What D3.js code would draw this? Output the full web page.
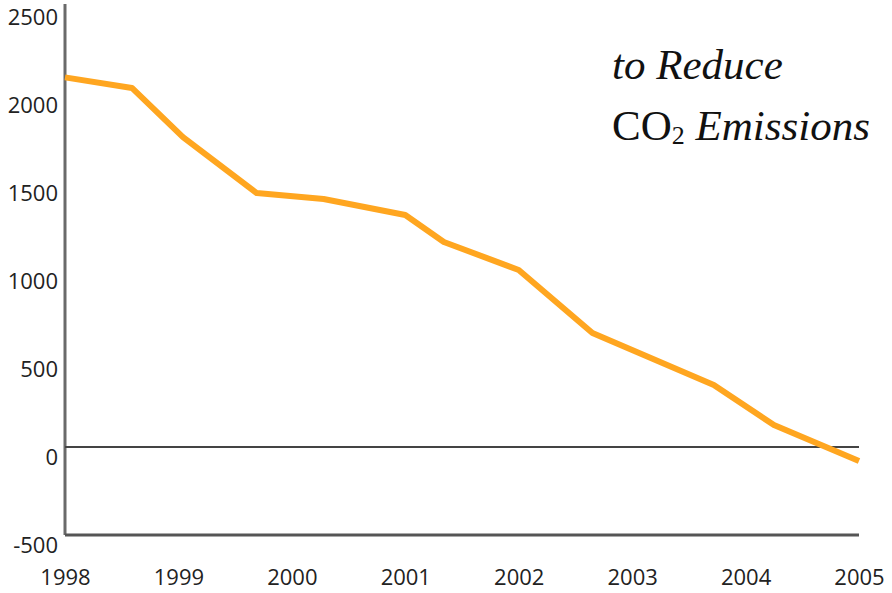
<!DOCTYPE html>
<html>
<head>
<meta charset="utf-8">
<script src="https://cdn.jsdelivr.net/npm/d3@7"></script>
<style>
  body { margin: 0; background: #fff; }
  svg { display: block; }
</style>
</head>
<body>
<div id="vis-holder"></div>
<script>
// data (x as fractional year)
const years = [1998, 1998.59, 1999.04, 1999.69, 2000.28, 2001.0, 2001.34, 2002.0, 2002.65, 2003.72, 2004.25, 2005.0];
const values = [2100, 2040, 1761, 1443, 1409, 1318, 1165, 1006, 648, 352, 125, -80];
const yTicks = [-500, 0, 500, 1000, 1500, 2000, 2500];
const xTicks = [1998, 1999, 2000, 2001, 2002, 2003, 2004, 2005];
const titleLines = ["to Reduce", "CO", "2", " Emissions"];

const width = 892,
    height = 593;

const svg = d3.select("#vis-holder")
    .append("svg")
    .attr("width", width)
    .attr("height", height);

const x = d3.scaleLinear()
    .domain([1998, 2005])
    .range([65, 859]);

const y = d3.scaleLinear()
    .domain([-500, 2500])
    .range([535, 7]);

// y axis labels (plain hyphen for negatives, like the original)
const yAxis = svg.append("g")
    .attr("transform", "translate(65,0)")
    .call(d3.axisLeft(y).tickValues(yTicks).tickSize(0).tickPadding(7).tickFormat(d => String(d)));
yAxis.select(".domain").remove();
yAxis.selectAll("text")
    .attr("transform", "translate(0,10)")
    .style("font-family", "'Open Sans', sans-serif")
    .style("font-size", "22px")
    .style("fill", "#222");

// x axis labels
const xAxis = svg.append("g")
    .attr("transform", "translate(0,535)")
    .call(d3.axisBottom(x).tickValues(xTicks).tickSize(0).tickPadding(34).tickFormat(d => String(d)));
xAxis.select(".domain").remove();
xAxis.selectAll("text")
    .style("font-family", "'Open Sans', sans-serif")
    .style("font-size", "22px")
    .style("fill", "#222");

// axis lines
svg.append("line")
    .attr("x1", x(1998)).attr("x2", x(1998))
    .attr("y1", 4).attr("y2", y(-500))
    .style("stroke", "#6a6a6a")
    .style("stroke-width", 3);

svg.append("line")
    .attr("x1", x(1998)).attr("x2", x(2005))
    .attr("y1", y(-500)).attr("y2", y(-500))
    .style("stroke", "#555")
    .style("stroke-width", 3);

// zero line
svg.append("line")
    .attr("x1", x(1998)).attr("x2", x(2005))
    .attr("y1", y(0)).attr("y2", y(0))
    .style("stroke", "#444")
    .style("stroke-width", 2);

// the series
const line = d3.line()
    .x((d, i) => x(years[i]))
    .y(d => y(d));

svg.append("path")
    .datum(values)
    .attr("d", line)
    .style("fill", "none")
    .style("stroke", "#ffa620")
    .style("stroke-width", 6)
    .style("stroke-linejoin", "round");

// title
const title = svg.append("g")
    .style("font-family", "'Liberation Serif', serif")
    .style("font-size", "43px")
    .style("fill", "#111");

title.append("text")
    .attr("x", 612).attr("y", 79)
    .style("font-style", "italic")
    .text(titleLines[0]);

const t2 = title.append("text")
    .attr("x", 612).attr("y", 140);
t2.append("tspan").text(titleLines[1]);
t2.append("tspan")
    .attr("dy", 4)
    .style("font-size", "26px")
    .text(titleLines[2]);
t2.append("tspan")
    .attr("dy", -4)
    .style("font-style", "italic")
    .text(titleLines[3]);
</script>
</body>
</html>
